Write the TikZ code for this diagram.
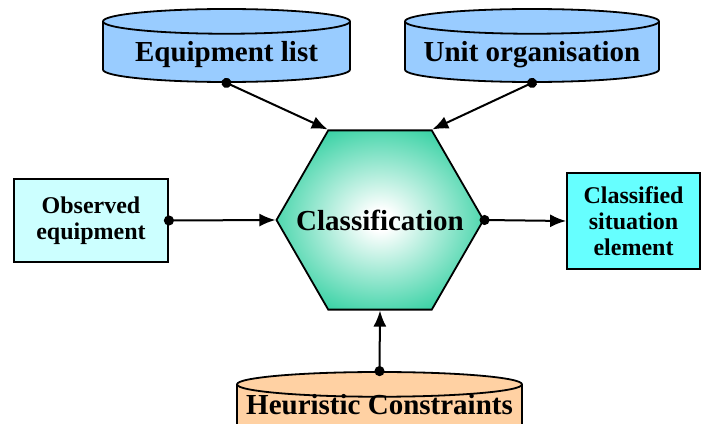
\documentclass[tikz,border=0pt]{standalone}
\usepackage{fontspec}
\setmainfont{Liberation Serif}
\usetikzlibrary{shapes.geometric,arrows.meta}

\definecolor{dbblue}{RGB}{153,204,255}
\definecolor{dborange}{RGB}{255,209,163}
\definecolor{hexgreen}{RGB}{32,204,153}
\definecolor{paleaqua}{RGB}{204,255,255}
\definecolor{brightaqua}{RGB}{102,255,255}
\pgfdeclareradialshading{hexglow}{\pgfpoint{0bp}{0bp}}{color(0bp)=(white); color(3bp)=(white); color(31bp)=(hexgreen); color(50bp)=(hexgreen)}

\tikzstyle{bigtext} = [font=\bfseries\fontsize{29}{31}\selectfont,inner sep=0pt]
\tikzstyle{smalltext} = [font=\bfseries\fontsize{24}{26}\selectfont]
\tikzstyle{database} = [cylinder,shape border rotate=90,aspect=0.14,text width=170pt,draw,line width=1.8pt,cylinder uses custom fill,anchor=shape center]
\tikzstyle{hexagon} = [regular polygon,regular polygon sides=6,minimum size=207,inner sep=0pt,draw,line width=1.8pt,shading=hexglow]
\tikzstyle{infobox} = [rectangle,draw,line width=1.8pt,align=center,smalltext]
\tikzstyle{flowarrow} = [{Circle[length=10pt]}-{Latex[length=16pt,width=13pt]},line width=2pt,shorten <=-5pt]

\begin{document}
\begin{tikzpicture}[x=1pt,y=-1pt]
      \useasboundingbox (0,0) rectangle (701,423);
      % nodes
      \node[hexagon] (cls) at (380,220) {};
      \node[bigtext,anchor=base] (clslabel) at (380,230) {Classification};
      \foreach \nodename/\x/\y/\w/\h/\base/\fillc/\name in {
        eqlist/226.5/45.5/247/73/61/dbblue/Equipment list,
        unitorg/532/45.5/254/73/61/dbblue/Unit organisation,
        heur/379.5/420/285/96/414/dborange/Heuristic Constraints}
      {
        \node[database,minimum width=\w,minimum height=\h,cylinder body fill=\fillc,cylinder end fill=\fillc] (\nodename) at (\x,\y) {};
        \node[bigtext,anchor=base] (\nodename label) at (\x,\base) {\name};
      };
      \node[infobox,fill=paleaqua,minimum width=154,minimum height=83] (obs) at (91,220.5) {Observed\\equipment};
      \node[infobox,fill=brightaqua,minimum width=133,minimum height=96] (out) at (633.5,221) {Classified\\situation\\element};
      %edges
      \foreach \startnode/\endnode in {
        eqlist.270/cls.120, unitorg.270/cls.60, obs.0/cls.180, cls.0/out.180, heur.90/cls.270}
      {
        \draw[flowarrow] (\startnode) -- (\endnode);
      };
\end{tikzpicture}
\end{document}
